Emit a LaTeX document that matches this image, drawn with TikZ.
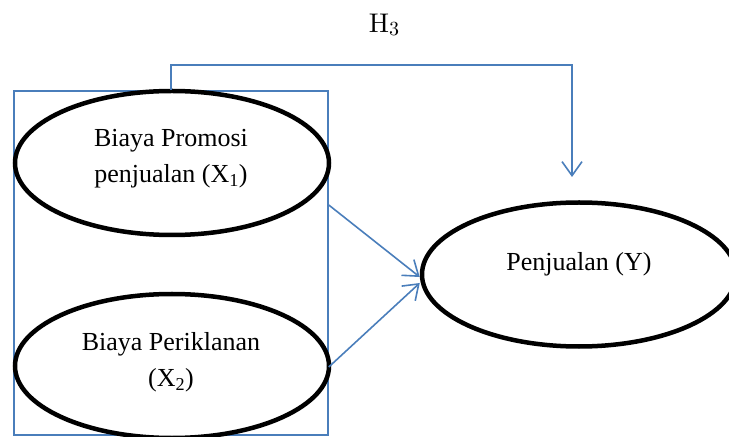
\documentclass[tikz,border=0pt]{standalone}
\usepackage{fontspec}
\setmainfont{Liberation Serif}
\newfontfamily\lmr{lmroman10-regular.otf}
\usetikzlibrary{arrows.meta,shapes.geometric}
\definecolor{lblue}{HTML}{4A7EBB}
\begin{document}
\begin{tikzpicture}[x=1bp,y=-1bp,
  oval/.style={ellipse, draw=black, fill=white, line width=4.5bp, minimum width=314bp, minimum height=144bp, inner sep=0pt},
  framebox/.style={draw=lblue, line width=1.5bp, rectangle, inner sep=0pt, minimum width=314bp, minimum height=344bp},
  conn/.style={draw=lblue, line width=1.6bp, -{Straight Barb[length=14bp,width=20bp]}},
  txt/.style={font=\fontsize{26bp}{36.5bp}\selectfont, align=center, inner sep=0pt}]
\useasboundingbox (0,0) rectangle (729,437);
\node[framebox] (frame) at (171,263) {};
\node[oval] (X1) at (172,163) {};
\node[oval] (X2) at (172,366) {};
\node[oval] (Y) at (579,274.5) {};
\node[txt] (X1t) at (171,158.8) {Biaya Promosi\\penjualan (X\textsubscript{1})};
\node[txt] (X2t) at (171,362.3) {Biaya Periklanan\\(X\textsubscript{2})};
\node[txt] (Yt) at (579,263.8) {Penjualan (Y)};
\node[font=\lmr\fontsize{27bp}{30bp}\selectfont, inner sep=0pt, anchor=base] (H3) at (384,33) {H\raisebox{-3bp}{\fontsize{20bp}{20bp}\selectfont 3}};
\coordinate (h3end) at (572,177);
\draw[conn] (frame.north) -- ++(0,-25) -| (h3end);
\draw[conn] ([yshift=58bp]frame.east) -- ([yshift=-2.5bp]Y.west);
\draw[conn] ([yshift=-104bp]frame.east) -- ([yshift=-8.5bp]Y.west);
\end{tikzpicture}
\end{document}
